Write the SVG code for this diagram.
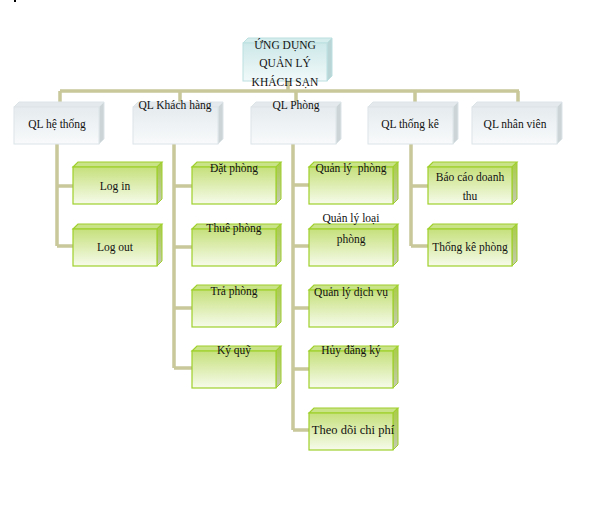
<svg xmlns="http://www.w3.org/2000/svg" width="597" height="515" viewBox="0 0 597 515">
<defs>
<linearGradient id="gGreen" x1="0" y1="0" x2="0" y2="1">
<stop offset="0" stop-color="#c6e07c"/>
<stop offset="1" stop-color="#f6fbea"/>
</linearGradient>
<linearGradient id="gGreenSide" x1="0" y1="0" x2="0" y2="1">
<stop offset="0" stop-color="#a8cc44"/>
<stop offset="1" stop-color="#c4c8b4"/>
</linearGradient>
<linearGradient id="gGray" x1="0" y1="0" x2="0" y2="1">
<stop offset="0" stop-color="#e5ebee"/>
<stop offset="1" stop-color="#f8fafb"/>
</linearGradient>
<linearGradient id="gTeal" x1="0" y1="0" x2="0" y2="1">
<stop offset="0" stop-color="#cde8e9"/>
<stop offset="1" stop-color="#f1f9f9"/>
</linearGradient>
</defs>
<style>
.t{font-family:"Liberation Serif","Times New Roman",serif;font-size:11.5px;fill:#111;text-anchor:middle}
.big{font-size:12.5px}
.gf{fill:url(#gGreen);stroke:#9fd02c;stroke-width:1.2}
.gt{fill:#c9e388;stroke:#9fd02c;stroke-width:1.2}
.gs{fill:url(#gGreenSide);stroke:#9fd02c;stroke-width:1}
.wf{fill:url(#gGray);stroke:#dde4e8;stroke-width:1}
.wt{fill:#e3e9ec;stroke:#dde4e8;stroke-width:1}
.ws{fill:#cdd4d8;stroke:#dde4e8;stroke-width:1}
.rf{fill:url(#gTeal);stroke:#bcdfe0;stroke-width:1}
.rt{fill:#d6eded;stroke:#bcdfe0;stroke-width:1}
.rs{fill:#b9d5d6;stroke:#bcdfe0;stroke-width:1}
.c{fill:none;stroke:#c9c89b;stroke-width:3.5}
</style>
<rect x="14" y="0" width="2" height="2" fill="#000"/>
<g id="connectors">
<path class="c" d="M288 81V91M60 91H519M60 91V102M180 91V102M296 91V102M415 91V102M518 91V102"/>
<path class="c" d="M57 144V246M57 186H73M57 246H73"/>
<path class="c" d="M174 144V368M174 186H192M174 247H192M174 308H192M174 368H192"/>
<path class="c" d="M293 144V430M293 185H309M293 246H309M293 308H309M293 369H309M293 430H309"/>
<path class="c" d="M411 144V246M411 186H428M411 246H428"/>
</g>
<g id="root">
<polygon class="rt" points="243,43 248,38 332,38 327,43"/>
<polygon class="rs" points="327,43 332,38 332,76 327,81"/>
<rect class="rf" x="243" y="43" width="84" height="38"/>
<text class="t" x="285" y="49">ỨNG DỤNG</text>
<text class="t" x="285" y="67">QUẢN LÝ</text>
<text class="t" x="285" y="86">KHÁCH SẠN</text>
</g>
<g id="ql-he-thong">
<polygon class="wt" points="14,107 19,102 104,102 99,107"/>
<polygon class="ws" points="99,107 104,102 104,139 99,144"/>
<rect class="wf" x="14" y="107" width="85" height="37"/>
<text class="t" x="57" y="128">QL hệ thống</text>
</g>
<g id="ql-khach-hang">
<polygon class="wt" points="133,107 138,102 223,102 218,107"/>
<polygon class="ws" points="218,107 223,102 223,139 218,144"/>
<rect class="wf" x="133" y="107" width="85" height="37"/>
<text class="t" x="175" y="109">QL Khách hàng</text>
</g>
<g id="ql-phong">
<polygon class="wt" points="251,107 256,102 341,102 336,107"/>
<polygon class="ws" points="336,107 341,102 341,139 336,144"/>
<rect class="wf" x="251" y="107" width="85" height="37"/>
<text class="t" x="296" y="109">QL Phòng</text>
</g>
<g id="ql-thong-ke">
<polygon class="wt" points="368,107 373,102 458,102 453,107"/>
<polygon class="ws" points="453,107 458,102 458,139 453,144"/>
<rect class="wf" x="368" y="107" width="85" height="37"/>
<text class="t" x="410" y="128">QL thống kê</text>
</g>
<g id="ql-nhan-vien">
<polygon class="wt" points="472,107 477,102 562,102 557,107"/>
<polygon class="ws" points="557,107 562,102 562,139 557,144"/>
<rect class="wf" x="472" y="107" width="85" height="37"/>
<text class="t" x="515" y="128">QL nhân viên</text>
</g>
<g id="log-in">
<polygon class="gt" points="73,167 78,162 162,162 157,167"/>
<polygon class="gs" points="157,167 162,162 162,199 157,204"/>
<rect class="gf" x="73" y="167" width="84" height="37"/>
<text class="t" x="115" y="190">Log in</text>
</g>
<g id="log-out">
<polygon class="gt" points="73,229 78,224 162,224 157,229"/>
<polygon class="gs" points="157,229 162,224 162,261 157,266"/>
<rect class="gf" x="73" y="229" width="84" height="37"/>
<text class="t" x="115" y="251">Log out</text>
</g>
<g id="dat-phong">
<polygon class="gt" points="192,167 197,162 281,162 276,167"/>
<polygon class="gs" points="276,167 281,162 281,199 276,204"/>
<rect class="gf" x="192" y="167" width="84" height="37"/>
<text class="t" x="234" y="172">Đặt phòng</text>
</g>
<g id="thue-phong">
<polygon class="gt" points="192,229 197,224 281,224 276,229"/>
<polygon class="gs" points="276,229 281,224 281,261 276,266"/>
<rect class="gf" x="192" y="229" width="84" height="37"/>
<text class="t" x="234" y="232">Thuê phòng</text>
</g>
<g id="tra-phong">
<polygon class="gt" points="192,290 197,285 281,285 276,290"/>
<polygon class="gs" points="276,290 281,285 281,322 276,327"/>
<rect class="gf" x="192" y="290" width="84" height="37"/>
<text class="t" x="234" y="295">Trả phòng</text>
</g>
<g id="ky-quy">
<polygon class="gt" points="192,351 197,346 281,346 276,351"/>
<polygon class="gs" points="276,351 281,346 281,383 276,388"/>
<rect class="gf" x="192" y="351" width="84" height="37"/>
<text class="t" x="234" y="354">Ký quỹ</text>
</g>
<g id="quan-ly-phong">
<polygon class="gt" points="309,167 314,162 398,162 393,167"/>
<polygon class="gs" points="393,167 398,162 398,199 393,204"/>
<rect class="gf" x="309" y="167" width="84" height="37"/>
<text class="t" x="351" y="172" style="white-space:pre">Quản lý  phòng</text>
</g>
<g id="quan-ly-loai-phong">
<polygon class="gt" points="309,229 314,224 398,224 393,229"/>
<polygon class="gs" points="393,229 398,224 398,261 393,266"/>
<rect class="gf" x="309" y="229" width="84" height="37"/>
<text class="t" x="351" y="222">Quản lý loại</text>
<text class="t" x="351" y="243">phòng</text>
</g>
<g id="quan-ly-dich-vu">
<polygon class="gt" points="309,290 314,285 398,285 393,290"/>
<polygon class="gs" points="393,290 398,285 398,322 393,327"/>
<rect class="gf" x="309" y="290" width="84" height="37"/>
<text class="t" x="351" y="296">Quản lý dịch vụ</text>
</g>
<g id="huy-dang-ky">
<polygon class="gt" points="309,351 314,346 398,346 393,351"/>
<polygon class="gs" points="393,351 398,346 398,383 393,388"/>
<rect class="gf" x="309" y="351" width="84" height="37"/>
<text class="t" x="351" y="354">Hủy đăng ký</text>
</g>
<g id="theo-doi-chi-phi">
<polygon class="gt" points="309,413 314,408 398,408 393,413"/>
<polygon class="gs" points="393,413 398,408 398,445 393,450"/>
<rect class="gf" x="309" y="413" width="84" height="37"/>
<text class="t big" x="353" y="434">Theo dõi chi phí</text>
</g>
<g id="bao-cao-doanh-thu">
<polygon class="gt" points="428,167 433,162 517,162 512,167"/>
<polygon class="gs" points="512,167 517,162 517,199 512,204"/>
<rect class="gf" x="428" y="167" width="84" height="37"/>
<text class="t" x="470" y="181">Báo cáo doanh</text>
<text class="t" x="470" y="200">thu</text>
</g>
<g id="thong-ke-phong">
<polygon class="gt" points="428,229 433,224 517,224 512,229"/>
<polygon class="gs" points="512,229 517,224 517,261 512,266"/>
<rect class="gf" x="428" y="229" width="84" height="37"/>
<text class="t" x="470" y="251">Thống kê phòng</text>
</g>
</svg>
